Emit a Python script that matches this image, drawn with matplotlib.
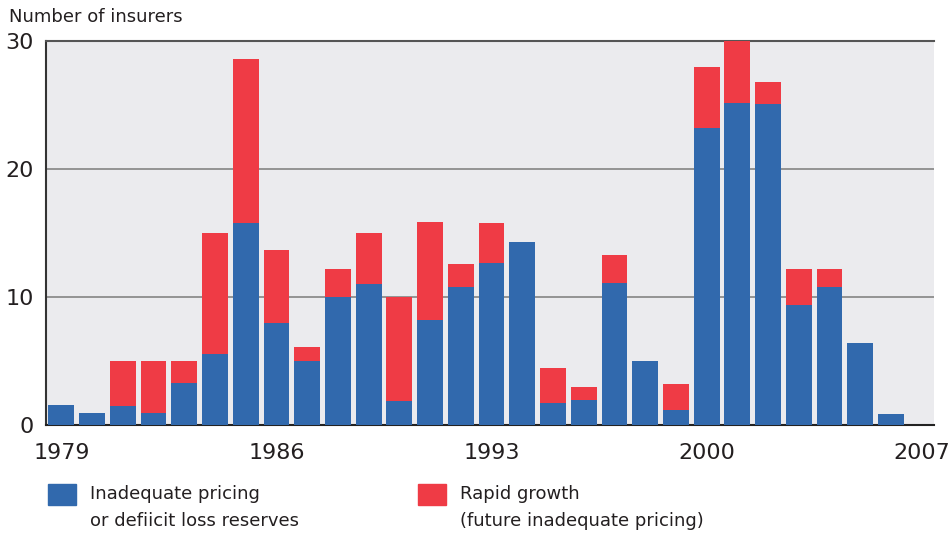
import matplotlib

matplotlib.use("Agg")
import matplotlib.pyplot as plt
from matplotlib.patches import Rectangle
import numpy as np

years = list(range(1979, 2007))
inadequate = [1.6, 1.0, 1.5, 1.0, 3.3, 5.6, 15.8, 8.0, 5.0, 10.0,
              11.0, 1.9, 8.2, 10.8, 12.7, 14.3, 1.75, 2.0, 11.1, 5.0,
              1.2, 23.2, 25.2, 25.1, 9.4, 10.8, 6.4, 0.9]
total = [1.6, 1.0, 5.0, 5.0, 5.0, 15.0, 28.6, 13.7, 6.1, 12.2,
         15.0, 10.0, 15.9, 12.6, 15.8, 14.3, 4.5, 3.0, 13.3, 5.0,
         3.2, 28.0, 30.0, 26.8, 12.2, 12.2, 6.4, 0.9]
rapid = [t - b for t, b in zip(total, inadequate)]
tick_years = [1979, 1986, 1993, 2000, 2007]
labels = ["Inadequate pricing\nor defiicit loss reserves",
          "Rapid growth\n(future inadequate pricing)"]

blue = "#3169ad"
red = "#ef3b45"
text_col = "#231f20"

plt.rcParams["font.family"] = ["DejaVu Sans"]

fig = plt.figure(figsize=(9.49, 5.36), dpi=100)
ax = fig.add_axes([0.0485, 0.2065, 0.9357, 0.7165])
ax.set_facecolor("#ebebee")

x = np.array(years) - 1979
ax.bar(x, inadequate, width=0.84, color=blue, zorder=3)
ax.bar(x, rapid, bottom=inadequate, width=0.84, color=red, zorder=3)

ax.set_xlim(-0.5, 28.4)
ax.set_ylim(0, 30)
ax.set_yticks([0, 10, 20, 30])
ax.set_xticks([y - 1979 for y in tick_years])
ax.set_xticklabels([str(y) for y in tick_years])
ax.tick_params(length=0, labelsize=16, colors=text_col)
ax.tick_params(axis="x", pad=13)
ax.tick_params(axis="y", pad=9)
ax.yaxis.grid(True, color="#8c8c8c", linewidth=1.3, zorder=1)

ax.spines["right"].set_visible(False)
ax.spines["top"].set_color("#555555")
ax.spines["top"].set_linewidth(1.5)
ax.spines["left"].set_color("#333333")
ax.spines["left"].set_linewidth(1.5)
ax.spines["bottom"].set_color("#222222")
ax.spines["bottom"].set_linewidth(1.5)

fig.text(0.009, 0.968, "Number of insurers", fontsize=13, color=text_col,
         ha="left", va="center")

# legend
W, H = 949, 536
for (px, col, lab) in [(48, blue, labels[0]), (418, red, labels[1])]:
    fig.add_artist(Rectangle((px / W, 1 - 505 / H), 28 / W, 21 / H,
                             transform=fig.transFigure, color=col))
    fig.text((px + 42) / W, 1 - 485 / H, lab, fontsize=13, color=text_col,
             ha="left", va="top", linespacing=1.65)

fig.savefig("out.png", dpi=100)
